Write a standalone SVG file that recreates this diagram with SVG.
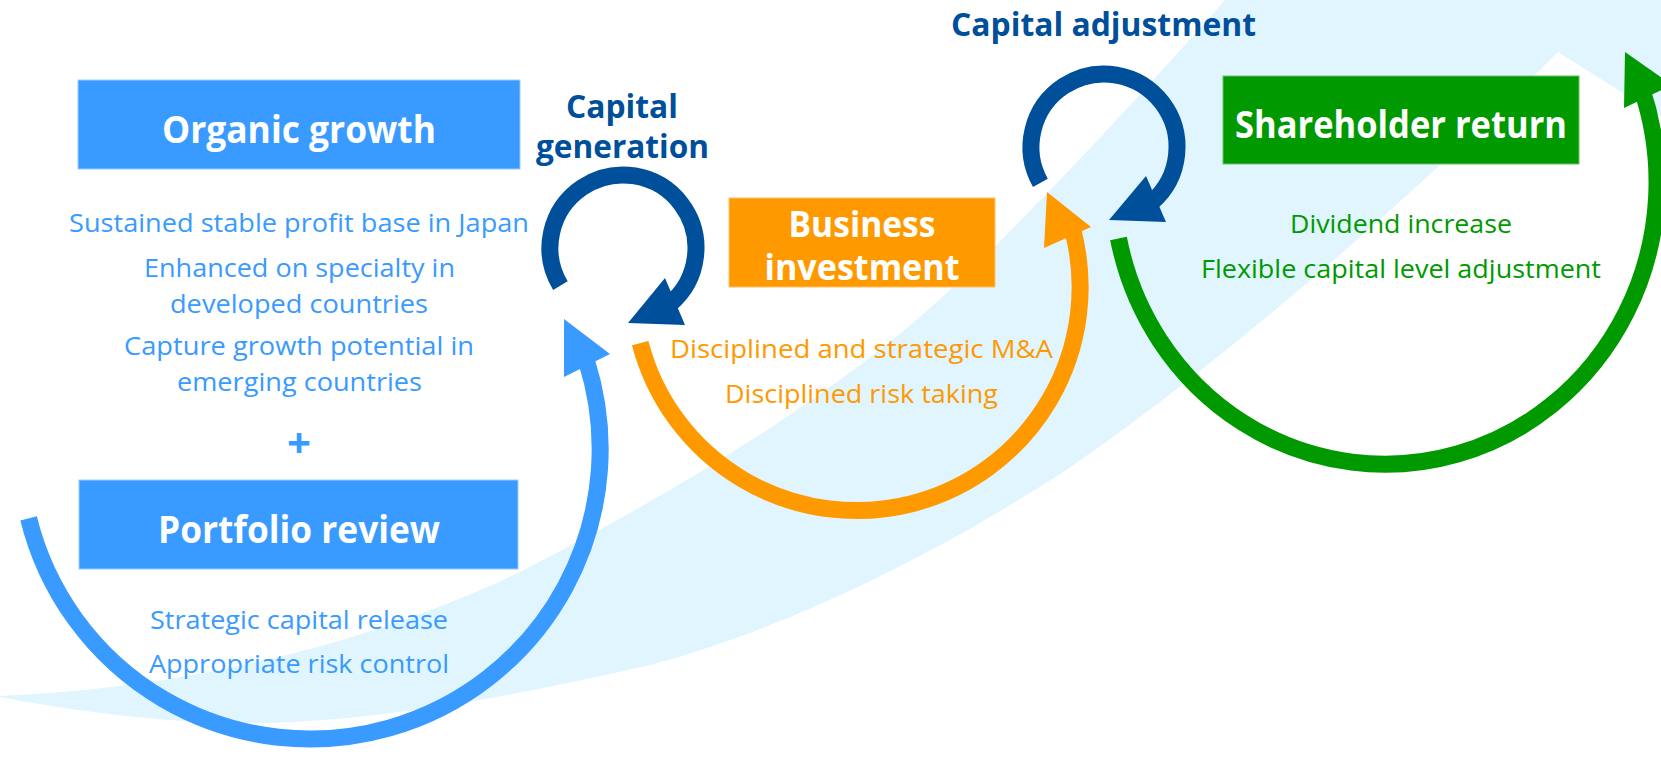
<svg xmlns="http://www.w3.org/2000/svg" width="1661" height="766" viewBox="0 0 1661 766">
<style>
.arc{fill:none;stroke-width:17;stroke-linecap:butt}
.t{font-family:"Open Sans","Noto Sans","Liberation Sans",sans-serif;text-anchor:middle}
.r{font-size:26px;font-weight:400}
.b{font-weight:700}
.w{fill:#ffffff}
.blue{fill:#399aff}
.navy{fill:#004f9b}
.orange{fill:#ff9900}
.green{fill:#009900}
</style>
<rect x="0" y="0" width="1661" height="766" fill="#ffffff"/>
<g id="band">
<path fill="#e0f5fe" d="M 0 697 C 80 712 170 724 260 723 C 380 721 520 695 650 665 C 800 625 950 545 1060 474 C 1200 380 1400 210 1558 52 L 1661 117 L 1661 0 L 1225 0 C 1150 85 1040 205 953 287 C 850 385 690 485 520 572 C 440 610 260 685 0 696 Z"/>
</g>
<g id="connectors">
<path class="arc" stroke="#399aff" d="M 28.6 518.4 A 290 290 0 1 0 586.5 361"/>
<polygon class="blue" points="564,319 610,354 564,377"/>
<path class="arc" stroke="#ff9900" d="M 640.2 343.1 A 222 222 0 1 0 1073 231"/>
<polygon class="orange" points="1047,192 1091,227 1044,248"/>
<path class="arc" stroke="#009900" d="M 1118.5 238.5 A 272 282 0 1 0 1641.6 88.6"/>
<polygon class="green" points="1625,52 1672,85 1624,108"/>
<path class="arc" stroke="#004f9b" d="M 560.4 285.6 A 73 73 0 1 1 669.9 303.9"/>
<polygon class="navy" points="628,323 665,278 685,325"/>
<path class="arc" stroke="#004f9b" d="M 1040.4 182.8 A 73 73 0 1 1 1151.9 202.1"/>
<polygon class="navy" points="1109,220 1146,176 1166,222"/>
</g>
<g id="organic-growth">
<rect x="78" y="80" width="442" height="89" fill="#399aff" stroke="#9ccbff" stroke-width="1"/>
<text class="t b w" x="299" y="143" font-size="37" textLength="274" lengthAdjust="spacingAndGlyphs">Organic growth</text>
<text class="t r blue" x="299" y="232" textLength="460" lengthAdjust="spacingAndGlyphs">Sustained stable profit base in Japan</text>
<text class="t r blue" x="299.5" y="276.5" textLength="311" lengthAdjust="spacingAndGlyphs">Enhanced on specialty in</text>
<text class="t r blue" x="299" y="312.5" textLength="258" lengthAdjust="spacingAndGlyphs">developed countries</text>
<text class="t r blue" x="299" y="355" textLength="350" lengthAdjust="spacingAndGlyphs">Capture growth potential in</text>
<text class="t r blue" x="299.5" y="391" textLength="245" lengthAdjust="spacingAndGlyphs">emerging countries</text>
</g>
<g id="plus">
<text class="t b blue" x="299" y="458" font-size="42">+</text>
</g>
<g id="portfolio-review">
<rect x="79" y="480" width="439" height="89" fill="#399aff" stroke="#9ccbff" stroke-width="1"/>
<text class="t b w" x="299" y="543" font-size="37" textLength="282" lengthAdjust="spacingAndGlyphs">Portfolio review</text>
<text class="t r blue" x="299" y="629" textLength="298" lengthAdjust="spacingAndGlyphs">Strategic capital release</text>
<text class="t r blue" x="299" y="673" textLength="300" lengthAdjust="spacingAndGlyphs">Appropriate risk control</text>
</g>
<g id="capital-generation">
<text class="t b navy" x="622" y="118" font-size="32" textLength="112" lengthAdjust="spacingAndGlyphs">Capital</text>
<text class="t b navy" x="622.5" y="158" font-size="32" textLength="173" lengthAdjust="spacingAndGlyphs">generation</text>
</g>
<g id="business-investment">
<rect x="729" y="198" width="266" height="89" fill="#ff9900" stroke="#ffc266" stroke-width="1"/>
<text class="t b w" x="862" y="237" font-size="35" textLength="147" lengthAdjust="spacingAndGlyphs">Business</text>
<text class="t b w" x="862" y="280" font-size="35" textLength="195" lengthAdjust="spacingAndGlyphs">investment</text>
<text class="t r orange" x="861.5" y="358" textLength="383" lengthAdjust="spacingAndGlyphs">Disciplined and strategic M&amp;A</text>
<text class="t r orange" x="861.5" y="403" textLength="273" lengthAdjust="spacingAndGlyphs">Disciplined risk taking</text>
</g>
<g id="capital-adjustment">
<text class="t b navy" x="1103.5" y="36" font-size="32" textLength="305" lengthAdjust="spacingAndGlyphs">Capital adjustment</text>
</g>
<g id="shareholder-return">
<rect x="1223" y="76" width="356" height="88" fill="#009900" stroke="#66c266" stroke-width="1"/>
<text class="t b w" x="1401" y="138" font-size="37" textLength="332" lengthAdjust="spacingAndGlyphs">Shareholder return</text>
<text class="t r green" x="1401" y="233" textLength="222" lengthAdjust="spacingAndGlyphs">Dividend increase</text>
<text class="t r green" x="1401" y="278" textLength="400" lengthAdjust="spacingAndGlyphs">Flexible capital level adjustment</text>
</g>
</svg>
